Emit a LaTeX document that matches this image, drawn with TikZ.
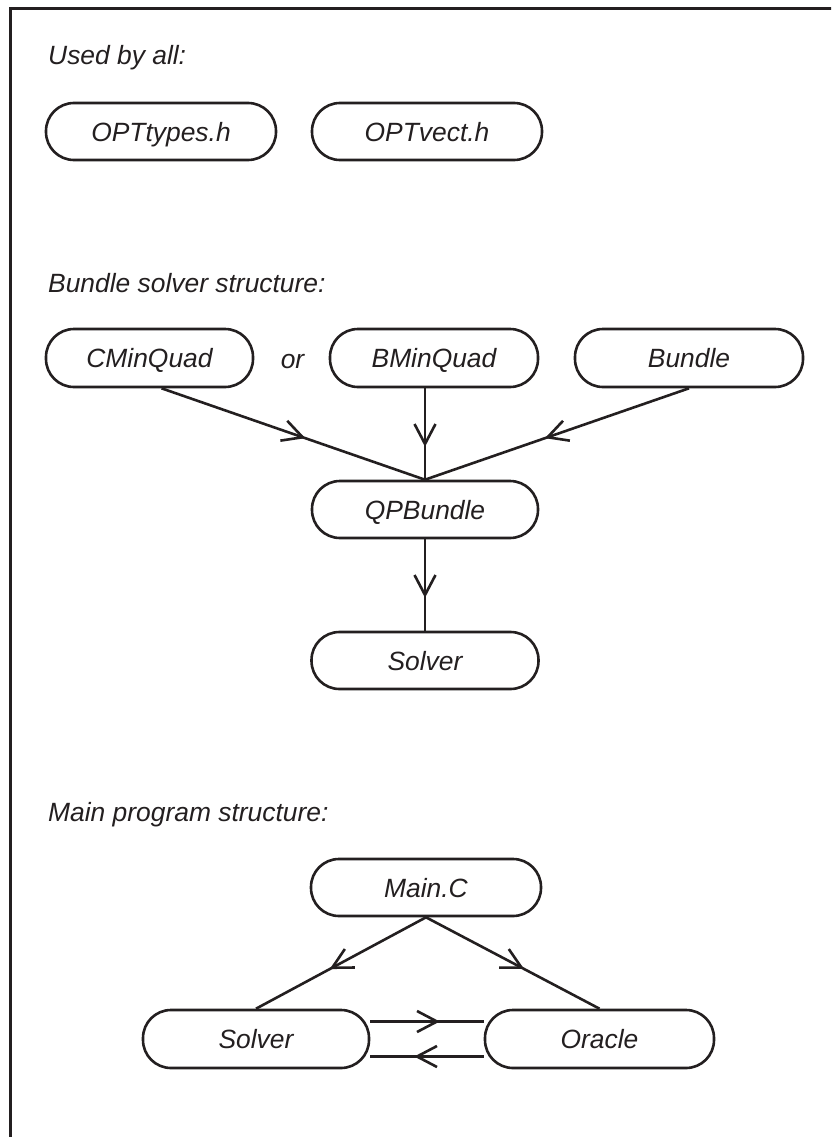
\documentclass[tikz,border=0pt]{standalone}
\usepackage{fontspec}
\setmainfont{Liberation Sans}
\usetikzlibrary{decorations.markings,backgrounds}
\definecolor{ink}{HTML}{231F20}
\begin{document}
\begin{tikzpicture}[x=1pt,y=-1pt,
  every node/.style={font=\fontsize{26.4}{30}\selectfont\itshape, text=ink},
  pill/.style={draw=ink, line width=2.6pt, fill=white, rectangle, rounded corners=28pt,
    minimum height=57pt, inner sep=0pt, text height=19pt, text depth=0pt},
  heading/.style={anchor=base west, inner sep=0pt},
  conn/.style={draw=ink, line width=2.6pt},
  midarrow/.style={postaction={decorate, decoration={markings,
    mark=at position 0.5 with {\draw[ink, line width=2.6pt] (-10pt,10.5pt) -- (10pt,0pt) -- (-10pt,-10.5pt);}}}}
]
\useasboundingbox (0,0) rectangle (831,1137);
\clip (0,0) rectangle (831,1137);
% frame (only its left and top edges fall inside the picture)
\draw[ink, line width=3pt] (10,1200) -- (10,8.7) -- (900,8.7);

% Used by all
\node[heading] (h1) at (48,65) {Used by all:};
\node[pill, minimum width=230pt] (types) at (161,131.5) {OPTtypes.h};
\node[pill, minimum width=230pt] (vect) at (427,131.5) {OPTvect.h};

% Bundle solver structure
\node[heading] (h2) at (48,292) {Bundle solver structure:};
\node[pill, minimum width=207pt, minimum height=58pt] (cmin) at (149.5,358) {CMinQuad};
\node[anchor=base, inner sep=0pt] (or) at (292.5,368) {or};
\node[pill, minimum width=208pt, minimum height=58pt] (bmin) at (434,358) {BMinQuad};
\node[pill, minimum width=228pt, minimum height=58pt] (bundle) at (689,358) {Bundle};
\node[pill, minimum width=226pt] (qp) at (425,509.5) {QPBundle};
\node[pill, minimum width=227pt] (solver) at (425,660.5) {Solver};

% Main program structure
\node[heading] (h3) at (48,821) {Main program structure:};
\node[pill, minimum width=230pt] (mainc) at (426,887.5) {Main.C};
\node[pill, minimum width=226pt, minimum height=58pt] (solverb) at (256,1039) {Solver};
\node[pill, minimum width=229pt, minimum height=58pt] (oracle) at (599.5,1039) {Oracle};

\begin{scope}[on background layer]
\draw[conn, midarrow] ([xshift=12pt]cmin.south) -- (qp.north);
\draw[conn, midarrow] (bmin.south -| qp.north) -- (qp.north);
\draw[conn, midarrow] (bundle.south) -- (qp.north);
\draw[conn, midarrow] (qp.south) -- (solver.north);
\draw[conn, midarrow] (mainc.south) -- (solverb.north);
\draw[conn, midarrow] (mainc.south) -- (oracle.north);
\draw[conn, midarrow] ([yshift=17.5pt]solverb.east) -- ([yshift=17.5pt]oracle.west);
\draw[conn, midarrow] ([yshift=-17.5pt]oracle.west) -- ([yshift=-17.5pt]solverb.east);
\end{scope}
\end{tikzpicture}
\end{document}
